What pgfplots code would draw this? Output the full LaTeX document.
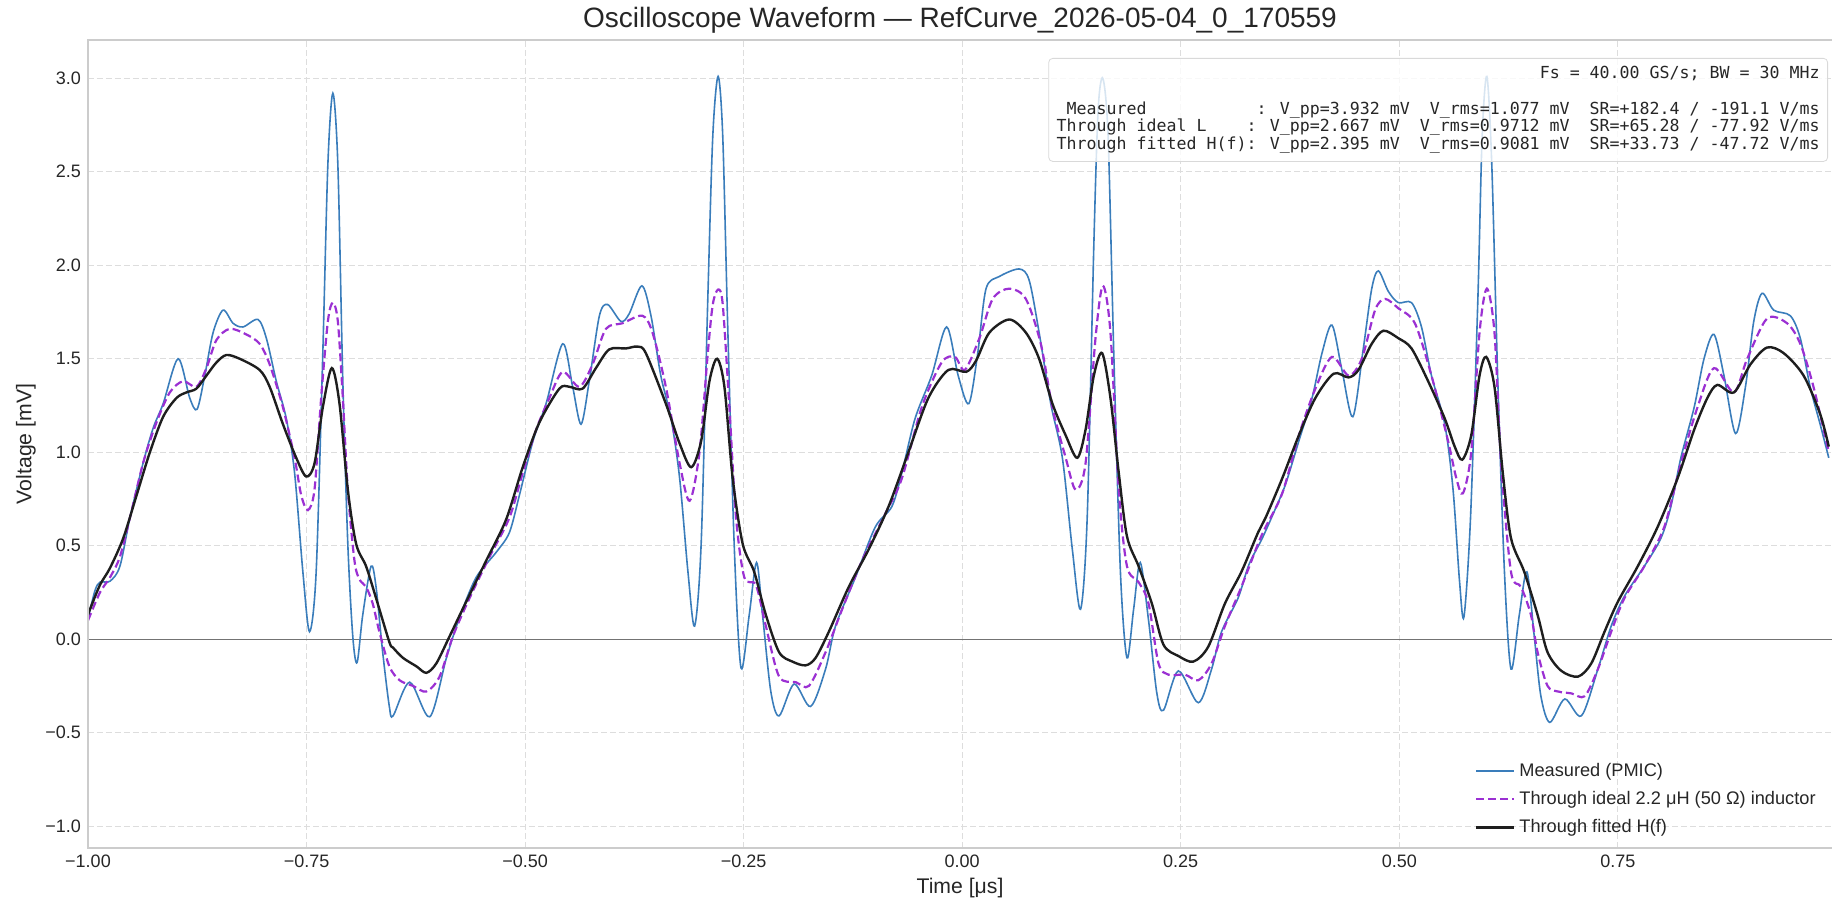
\documentclass[border=0pt]{standalone}
\usepackage{fontspec}
\setmainfont{Liberation Sans}
\newfontfamily\monofont{DejaVu Sans Mono}
\usepackage{pgfplots}
\pgfplotsset{compat=1.18}

\definecolor{meas}{HTML}{3A7DBB}
\definecolor{ideal}{HTML}{9B30D3}
\definecolor{fitc}{HTML}{1E1E1E}
\definecolor{spine}{HTML}{CCCCCC}
\definecolor{gridc}{HTML}{DDDDDD}
\definecolor{txt}{HTML}{262626}
% monospace padding: n character cells
\newcommand\pad[1]{\hspace*{\dimexpr#1\fontcharwd\font`0\relax}}

\begin{document}
\begin{tikzpicture}
\useasboundingbox (-44pt,-25.5pt) rectangle (872pt,424pt);
\begin{axis}[
    at={(0,0)}, anchor=south west,
    scale only axis, width=872pt, height=404pt,
    xmin=-1, xmax=0.995, ymin=-1.117, ymax=3.205,
    xtick={-1,-0.75,-0.5,-0.25,0,0.25,0.5,0.75},
    xticklabels={−1.00,−0.75,−0.50,−0.25,0.00,0.25,0.50,0.75},
    ytick={-1,-0.5,0,0.5,1,1.5,2,2.5,3},
    yticklabels={−1.0,−0.5,0.0,0.5,1.0,1.5,2.0,2.5,3.0},
    major tick length=0pt,
    tick label style={font=\fontsize{9}{10}\selectfont, text=txt},
    xmajorgrids, ymajorgrids,
    major grid style={gridc, line width=0.5pt, dash pattern=on 3pt off 1.5pt},
    axis line style={draw=none},
    xlabel={Time [μs]},
    xlabel style={at={(axis description cs:0.5,-0.0495)}, anchor=center,
      font=\fontsize{10.6}{12}\selectfont, text=txt},
    ylabel={Voltage [mV]},
    ylabel style={at={(axis description cs:-0.0356,0.5)}, anchor=center,
      font=\fontsize{10.6}{12}\selectfont, text=txt},
    legend style={at={(axis description cs:1,0)}, anchor=south east,
      xshift=-4pt, yshift=2pt, draw=none, fill=none,
      font=\fontsize{9.1}{10}\selectfont, text=txt, row sep=2pt, inner sep=2pt},
    legend cell align=left,
    legend image code/.code={\draw[#1] (0pt,0pt) -- (19pt,0pt);},
]
\addplot[forget plot, black!55, line width=0.6pt] coordinates {(-1,0) (1,0)};

\addplot[meas, line width=0.8pt, smooth, tension=0.5] coordinates {
(-1.0,0.11) (-0.9920,0.26) (-0.9863,0.305) (-0.9749,0.31) (-0.9635,0.39) (-0.952,0.65)
(-0.9368,0.945) (-0.9254,1.13) (-0.914,1.26) (-0.8969,1.50) (-0.8836,1.29) (-0.8752,1.23)
(-0.8664,1.41) (-0.8569,1.64) (-0.8455,1.76) (-0.8341,1.69) (-0.8227,1.67) (-0.8056,1.71)
(-0.796,1.61) (-0.7846,1.38) (-0.7732,1.18) (-0.7637,0.89) (-0.7542,0.36) (-0.7466,0.04)
(-0.739,0.36) (-0.7314,1.53) (-0.7256,2.54) (-0.7199,2.92) (-0.7142,2.54) (-0.7085,1.38)
(-0.7028,0.51) (-0.6971,0.015) (-0.6922,-0.125) (-0.6857,0.13) (-0.6762,0.39) (-0.6705,0.28)
(-0.6629,-0.07) (-0.6553,-0.36) (-0.651,-0.41) (-0.632,-0.23) (-0.609,-0.415) (-0.590,-0.10)
(-0.575,0.116) (-0.556,0.33) (-0.533,0.465) (-0.518,0.57) (-0.5065,0.77) (-0.491,1.06)
(-0.476,1.26) (-0.457,1.58) (-0.4456,1.35) (-0.436,1.15) (-0.4266,1.38) (-0.415,1.73)
(-0.4056,1.79) (-0.3904,1.70) (-0.381,1.74) (-0.3664,1.89) (-0.356,1.73) (-0.3448,1.41)
(-0.333,1.18) (-0.3232,0.86) (-0.3137,0.36) (-0.3061,0.07) (-0.2986,0.51) (-0.291,1.82)
(-0.2853,2.69) (-0.2792,3.01) (-0.2739,2.69) (-0.2682,1.67) (-0.2606,0.48) (-0.253,-0.154)
(-0.2436,0.13) (-0.2352,0.41) (-0.2284,0.13) (-0.2189,-0.28) (-0.2094,-0.41) (-0.1923,-0.24)
(-0.1734,-0.36) (-0.1563,-0.16) (-0.1449,0.07) (-0.1222,0.33) (-0.0994,0.60) (-0.0804,0.71)
(-0.069,0.89) (-0.0539,1.18) (-0.0349,1.41) (-0.0178,1.67) (-0.0046,1.41) (0.0076,1.26)
(0.0178,1.53) (0.0273,1.875) (0.0425,1.94) (0.0653,1.98) (0.0766,1.92) (0.088,1.64)
(0.1013,1.26) (0.1146,0.97) (0.126,0.48) (0.1354,0.16) (0.143,0.65) (0.1506,2.11)
(0.1555,2.83) (0.1609,3.0) (0.1669,2.69) (0.1734,1.53) (0.181,0.36) (0.1885,-0.10)
(0.1961,0.16) (0.2037,0.41) (0.2132,0.10) (0.2227,-0.29) (0.2303,-0.38) (0.2473,-0.17)
(0.2701,-0.34) (0.2853,-0.16) (0.2967,0.04) (0.3156,0.22) (0.3281,0.40) (0.3433,0.54)
(0.3585,0.70) (0.37,0.83) (0.3851,1.06) (0.4002,1.29) (0.4116,1.53) (0.423,1.68)
(0.4344,1.44) (0.4469,1.19) (0.459,1.56) (0.4685,1.875) (0.4761,1.97) (0.4875,1.86)
(0.4989,1.80) (0.514,1.80) (0.5254,1.67) (0.5368,1.41) (0.552,1.15) (0.5615,0.80)
(0.569,0.305) (0.574,0.12) (0.5815,0.65) (0.5899,1.82) (0.5948,2.69) (0.6002,3.01)
(0.6058,2.54) (0.6127,1.38) (0.6203,0.36) (0.6278,-0.16) (0.6373,0.13) (0.646,0.36)
(0.6544,0.015) (0.662,-0.305) (0.6722,-0.445) (0.6893,-0.32) (0.7083,-0.41) (0.7272,-0.16)
(0.7424,0.07) (0.7576,0.23) (0.7803,0.39) (0.7993,0.54) (0.8107,0.71) (0.8221,0.97)
(0.8373,1.24) (0.8486,1.50) (0.86,1.63) (0.8714,1.41) (0.8847,1.10) (0.896,1.35)
(0.9055,1.70) (0.915,1.85) (0.9283,1.76) (0.9473,1.73) (0.9587,1.61) (0.97,1.35)
(0.9814,1.15) (0.9913,0.97)
};
\addlegendentry{Measured (PMIC)}

\addplot[ideal, line width=1.1pt, dash pattern=on 4pt off 2pt, smooth, tension=0.5] coordinates {
(-1.0,0.10) (-0.9863,0.25) (-0.9749,0.33) (-0.9635,0.44) (-0.952,0.65) (-0.9368,0.945)
(-0.9216,1.16) (-0.9064,1.32) (-0.8912,1.38) (-0.876,1.35) (-0.8645,1.45) (-0.8531,1.60)
(-0.8379,1.66) (-0.8189,1.63) (-0.8037,1.58) (-0.7922,1.47) (-0.777,1.24) (-0.7637,0.97)
(-0.7561,0.77) (-0.7485,0.69) (-0.7409,0.80) (-0.7333,1.29) (-0.7256,1.70) (-0.7199,1.80)
(-0.7142,1.70) (-0.7085,1.29) (-0.7028,0.80) (-0.6952,0.42) (-0.6895,0.32) (-0.6819,0.28)
(-0.6743,0.19) (-0.6667,0.04) (-0.6553,-0.145) (-0.6435,-0.22) (-0.6282,-0.25) (-0.613,-0.28)
(-0.5978,-0.20) (-0.5826,0.015) (-0.5635,0.22) (-0.5407,0.44) (-0.5179,0.65) (-0.5027,0.89)
(-0.4874,1.12) (-0.4722,1.29) (-0.457,1.43) (-0.438,1.35) (-0.4228,1.47) (-0.4075,1.66)
(-0.3885,1.69) (-0.3657,1.73) (-0.3543,1.64) (-0.339,1.35) (-0.3232,0.94) (-0.3118,0.74)
(-0.3005,1.0) (-0.291,1.53) (-0.2853,1.79) (-0.2792,1.87) (-0.2739,1.79) (-0.2663,1.24)
(-0.2587,0.65) (-0.2492,0.33) (-0.236,0.29) (-0.2246,0.07) (-0.2094,-0.20) (-0.1904,-0.23)
(-0.1753,-0.25) (-0.1563,-0.07) (-0.1373,0.16) (-0.1146,0.42) (-0.088,0.67) (-0.069,0.86)
(-0.0463,1.24) (-0.0235,1.48) (-0.0083,1.51) (0.003,1.44) (0.0197,1.61) (0.0349,1.82)
(0.0539,1.875) (0.0728,1.82) (0.0899,1.58) (0.1032,1.24) (0.1184,0.97) (0.1297,0.80)
(0.1411,0.94) (0.1525,1.61) (0.1609,1.89) (0.1696,1.64) (0.1791,0.80) (0.1885,0.39)
(0.2018,0.305) (0.2132,0.19) (0.2246,-0.13) (0.236,-0.19) (0.2549,-0.19) (0.2701,-0.22)
(0.2853,-0.13) (0.3005,0.07) (0.3194,0.28) (0.3384,0.51) (0.3471,0.60) (0.3661,0.78)
(0.3851,1.09) (0.404,1.34) (0.423,1.51) (0.442,1.41) (0.4571,1.50) (0.4723,1.76)
(0.4837,1.82) (0.4989,1.77) (0.5178,1.69) (0.5368,1.41) (0.5558,1.06) (0.5653,0.86)
(0.5728,0.78) (0.5823,1.0) (0.5918,1.64) (0.6002,1.875) (0.6089,1.64) (0.6165,0.94)
(0.6278,0.36) (0.6392,0.28) (0.6506,0.13) (0.6582,-0.07) (0.6696,-0.25) (0.6817,-0.28)
(0.6969,-0.29) (0.7121,-0.305) (0.7272,-0.16) (0.7424,0.04) (0.7576,0.22) (0.7803,0.39)
(0.8031,0.60) (0.8221,0.94) (0.8411,1.24) (0.86,1.45) (0.8828,1.32) (0.898,1.50)
(0.9207,1.715) (0.9435,1.69) (0.9587,1.58) (0.9738,1.35) (0.9913,1.0)
};
\addlegendentry{Through ideal 2.2 μH (50 Ω) inductor}

\addplot[fitc, line width=1.2pt, smooth, tension=0.5] coordinates {
(-1.0,0.13) (-0.9977,0.16) (-0.9863,0.29) (-0.9749,0.38) (-0.9597,0.54) (-0.9444,0.77)
(-0.9292,1.0) (-0.914,1.19) (-0.8988,1.29) (-0.8874,1.32) (-0.876,1.34) (-0.8645,1.41)
(-0.8531,1.48) (-0.8417,1.52) (-0.8265,1.50) (-0.8037,1.44) (-0.7922,1.35) (-0.777,1.15)
(-0.7618,0.97) (-0.7504,0.87) (-0.7409,0.94) (-0.7314,1.24) (-0.7211,1.45) (-0.7123,1.26)
(-0.7028,0.80) (-0.6933,0.51) (-0.6819,0.39) (-0.6705,0.22) (-0.6553,-0.015) (-0.6511,-0.045)
(-0.6397,-0.10) (-0.6244,-0.145) (-0.613,-0.18) (-0.6016,-0.13) (-0.5864,0.015) (-0.5674,0.20)
(-0.5445,0.42) (-0.5217,0.64) (-0.5027,0.92) (-0.4836,1.16) (-0.4608,1.34) (-0.4494,1.35)
(-0.4342,1.34) (-0.419,1.45) (-0.4037,1.55) (-0.3847,1.555) (-0.3714,1.565) (-0.3619,1.53)
(-0.339,1.26) (-0.3235,1.05) (-0.31,0.92) (-0.2986,1.06) (-0.2891,1.38) (-0.2803,1.50)
(-0.272,1.35) (-0.2625,0.86) (-0.2511,0.51) (-0.2379,0.36) (-0.2246,0.13) (-0.2094,-0.07)
(-0.1942,-0.12) (-0.1791,-0.14) (-0.1677,-0.10) (-0.1525,0.04) (-0.1297,0.28) (-0.107,0.48)
(-0.0842,0.71) (-0.0615,1.0) (-0.0387,1.29) (-0.0159,1.44) (0.0046,1.43) (0.0159,1.49)
(0.0311,1.64) (0.0539,1.71) (0.0728,1.64) (0.088,1.50) (0.1032,1.26) (0.1184,1.09)
(0.1316,0.97) (0.1411,1.12) (0.1506,1.41) (0.1601,1.53) (0.1696,1.29) (0.1791,0.89)
(0.1885,0.55) (0.2018,0.39) (0.217,0.19) (0.2303,-0.03) (0.2473,-0.09) (0.2644,-0.12)
(0.2815,-0.04) (0.3005,0.19) (0.3194,0.36) (0.3384,0.57) (0.3471,0.65) (0.3661,0.86)
(0.3851,1.09) (0.404,1.29) (0.4249,1.42) (0.442,1.40) (0.4533,1.44) (0.4685,1.58)
(0.4818,1.65) (0.4989,1.61) (0.514,1.555) (0.533,1.38) (0.552,1.18) (0.5634,1.03)
(0.5721,0.96) (0.5823,1.09) (0.5918,1.41) (0.5994,1.51) (0.6089,1.35) (0.6184,0.89)
(0.6278,0.54) (0.643,0.36) (0.6582,0.13) (0.6696,-0.07) (0.6855,-0.17) (0.7045,-0.20)
(0.7196,-0.13) (0.7348,0.04) (0.75,0.20) (0.7728,0.39) (0.7955,0.60) (0.8183,0.86)
(0.8373,1.12) (0.8524,1.29) (0.8638,1.36) (0.8828,1.32) (0.9017,1.47) (0.9207,1.56)
(0.9397,1.53) (0.9625,1.41) (0.9814,1.205) (0.9913,1.03)
};
\addlegendentry{Through fitted H(f)}
\end{axis}

% title, centred over the axis
\node[anchor=center, inner sep=0pt, text=txt, font=\fontsize{14}{16}\selectfont]
  at (436pt,414pt) {Oscilloscope Waveform — RefCurve\_2026-05-04\_0\_170559};

% spines (no right spine, as in the reference)
\draw[spine, line width=0.9pt] (872pt,404pt) -- (0,404pt) -- (0,0) -- (872pt,0);

% statistics box
\node[anchor=north east, draw=gray!30, rounded corners=2pt, fill=white,
      fill opacity=0.8, text opacity=1, inner sep=4pt, align=right, text=txt,
      font=\monofont\fontsize{8.3}{8.85}\selectfont] at (870pt,395pt) {%
Fs = 40.00 GS/s; BW = 30 MHz\\
~\\
Measured\pad{11}: V\_pp=3.932 mV\pad{2}V\_rms=1.077 mV\pad{2}SR=+182.4 / -191.1 V/ms\\
Through ideal L\pad{4}: V\_pp=2.667 mV\pad{2}V\_rms=0.9712 mV\pad{2}SR=+65.28 / -77.92 V/ms\\
Through fitted H(f): V\_pp=2.395 mV\pad{2}V\_rms=0.9081 mV\pad{2}SR=+33.73 / -47.72 V/ms};
\end{tikzpicture}
\end{document}
